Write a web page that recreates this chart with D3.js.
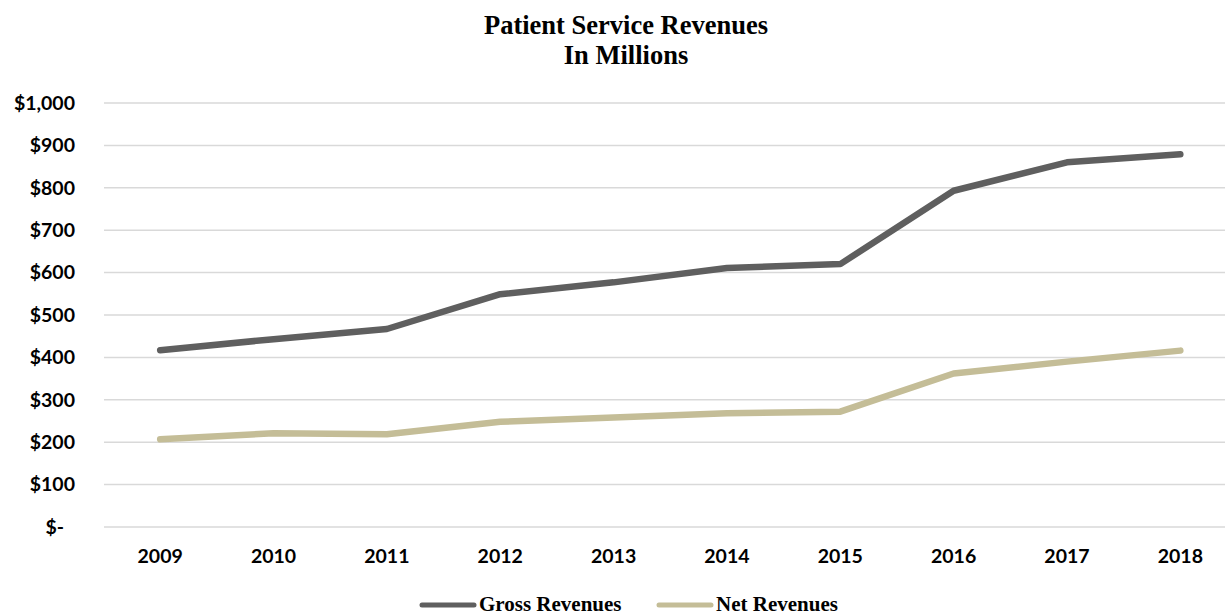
<!DOCTYPE html>
<html>
<head>
<meta charset="utf-8">
<script src="https://cdn.jsdelivr.net/npm/d3@7"></script>
<style>
  body { margin: 0; background: #fff; }
  .title { font-family: "Liberation Serif", "Times New Roman", serif; font-weight: bold; font-size: 26.5px; fill: #000; }
  .tick text { font-family: Lato, "Open Sans", sans-serif; font-weight: bold; font-size: 19.5px; fill: #000; }
  .legend text { font-family: "Liberation Serif", "Times New Roman", serif; font-weight: bold; font-size: 21px; fill: #000; }
</style>
</head>
<body>
<svg width="1225" height="616"></svg>
<script>
var years = ['2009','2010','2011','2012','2013','2014','2015','2016','2017','2018'];
var gross = [417, 443, 467, 549, 577, 611, 620, 793, 860, 879];
var net = [207, 221, 219, 248, 258, 268, 272, 362, 390, 416];
var yTicks = [0, 100, 200, 300, 400, 500, 600, 700, 800, 900, 1000];
var seriesNames = ['Gross Revenues', 'Net Revenues'];
var colors = ['#5f5f5f', '#c4bd97'];

var svg = d3.select('svg');
var x = d3.scaleBand().domain(years).range([103.5, 1237]);
var y = d3.scaleLinear().domain([0, 1000]).range([527, 103]);

// title
svg.append('text').attr('class', 'title').attr('x', 626).attr('y', 34).attr('text-anchor', 'middle').text('Patient Service Revenues');
svg.append('text').attr('class', 'title').attr('x', 626).attr('y', 64).attr('text-anchor', 'middle').text('In Millions');

// gridlines
svg.append('g').selectAll('line').data(yTicks).enter().append('line')
  .attr('x1', 104).attr('x2', 1225)
  .attr('y1', d => y(d)).attr('y2', d => y(d))
  .attr('stroke', '#d9d9d9').attr('stroke-width', 1.5);

var fmt = d => d === 0 ? '$-' : '$' + d3.format(',')(d);
var yAxis = svg.append('g').attr('transform', 'translate(80,0)')
  .call(d3.axisLeft(y).tickValues(yTicks).tickFormat(fmt).tickSize(0).tickPadding(5));
yAxis.select('.domain').remove();
yAxis.selectAll('.tick').filter(d => d === 0).select('text').attr('dx', -11);

var xAxis = svg.append('g').attr('transform', 'translate(0,546)')
  .call(d3.axisBottom(x).tickSize(0).tickPadding(3));
xAxis.select('.domain').remove();

var line = d3.line().x((d, i) => x(years[i]) + x.bandwidth() / 2).y(d => y(d));
[gross, net].forEach(function (s, k) {
  svg.append('path').datum(s).attr('d', line)
    .attr('fill', 'none').attr('stroke', colors[k]).attr('stroke-width', 6.5)
    .attr('stroke-linecap', 'round').attr('stroke-linejoin', 'round');
});

// legend
var lg = svg.append('g').attr('class', 'legend');
var lx = [422, 659];
seriesNames.forEach(function (n, k) {
  lg.append('line').attr('x1', lx[k]).attr('x2', lx[k] + 52).attr('y1', 605).attr('y2', 605)
    .attr('stroke', colors[k]).attr('stroke-width', 5).attr('stroke-linecap', 'round');
  lg.append('text').attr('x', lx[k] + 57).attr('y', 611).text(n);
});
</script>
</body>
</html>
